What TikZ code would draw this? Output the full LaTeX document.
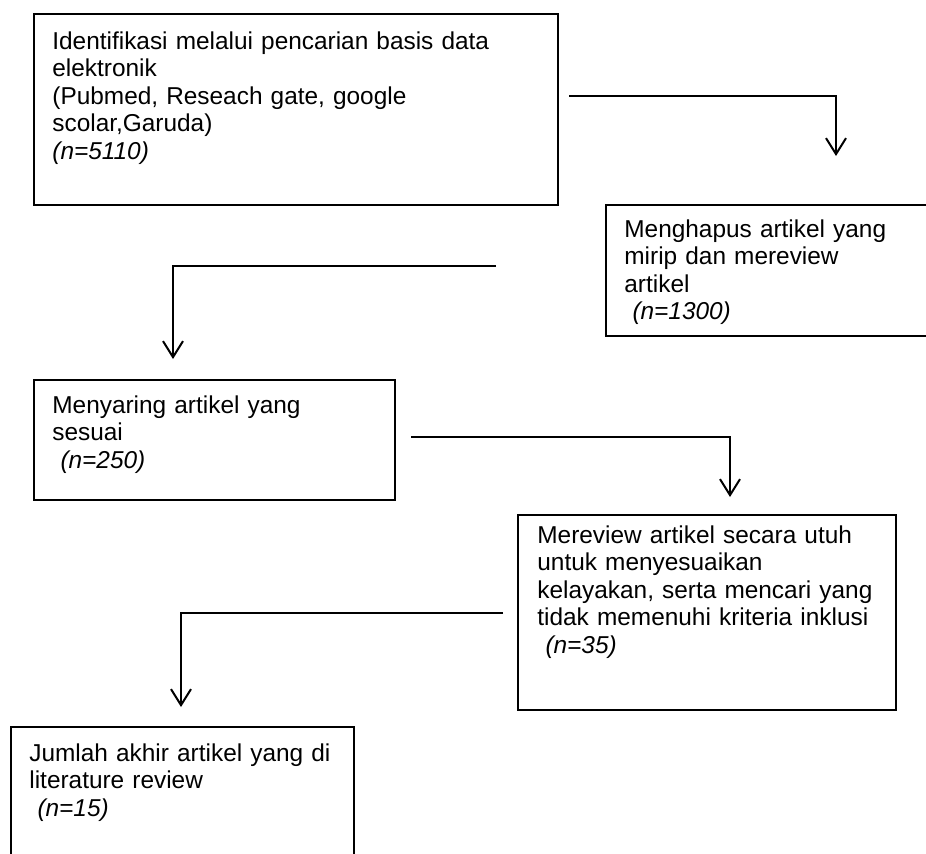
\documentclass[tikz,border=0pt]{standalone}
\usepackage{fontspec}
\setmainfont{Liberation Sans}
\usepackage{tikz}
\usetikzlibrary{positioning}
\usetikzlibrary{arrows.meta}
\tikzset{kotak/.style={draw, line width=0.75pt, anchor=north west, inner sep=0pt}}
\tikzset{isi/.style={anchor=base west, align=left, text width=250pt, inner sep=0pt, font=\fontsize{12.2pt}{13.75pt}\selectfont}}
\tikzset{panah/.style={line width=1pt, -{Straight Barb[length=8pt,width=10pt,line width=1pt]}}}

\begin{document}
\begin{tikzpicture}[x=0.5pt,y=-0.5pt]
\useasboundingbox (0,0) rectangle (926,853);
\clip (0,0) rectangle (926,853);
% kotak
\node[kotak, minimum width=262pt, minimum height=95.5pt] (identifikasi) at (33,13) {};
\node[kotak, minimum width=167.5pt, minimum height=65.5pt] (hapus) at (605,204) {};
\node[kotak, minimum width=180.5pt, minimum height=60pt] (saring) at (33,379) {};
\node[kotak, minimum width=189pt, minimum height=97.5pt] (review) at (517,514) {};
\node[kotak, minimum width=171.5pt, minimum height=77pt] (akhir) at (10,726) {};
% isi
\node[isi] (t1) at (52,49) {Identifikasi melalui pencarian basis data\\ elektronik\\ (Pubmed, Reseach gate, google\\ scolar,Garuda)\\ \textit{(n=5110)}};
\node[isi] (t2) at (624,237) {Menghapus artikel yang\\ mirip dan mereview\\ artikel\\ \ \textit{(n=1300)}};
\node[isi] (t3) at (52,413) {Menyaring artikel yang\\ sesuai\\ \ \textit{(n=250)}};
\node[isi] (t4) at (537,543) {Mereview artikel secara utuh\\ untuk menyesuaikan\\ kelayakan, serta mencari yang\\ tidak memenuhi kriteria inklusi\\ \ \textit{(n=35)}};
\node[isi] (t5) at (29,761) {Jumlah akhir artikel yang di\\ literature review\\ \ \textit{(n=15)}};
% panah
\coordinate (p1) at (569,96);
\coordinate (q1) at (836,156);
\coordinate (p2) at (496,266);
\coordinate (q2) at (173,359);
\coordinate (p3) at (411,437);
\coordinate (q3) at (730,497);
\coordinate (p4) at (503,613);
\coordinate (q4) at (181,707);
\draw[panah] (p1) -| (q1);
\draw[panah] (p2) -| (q2);
\draw[panah] (p3) -| (q3);
\draw[panah] (p4) -| (q4);
\end{tikzpicture}
\end{document}
